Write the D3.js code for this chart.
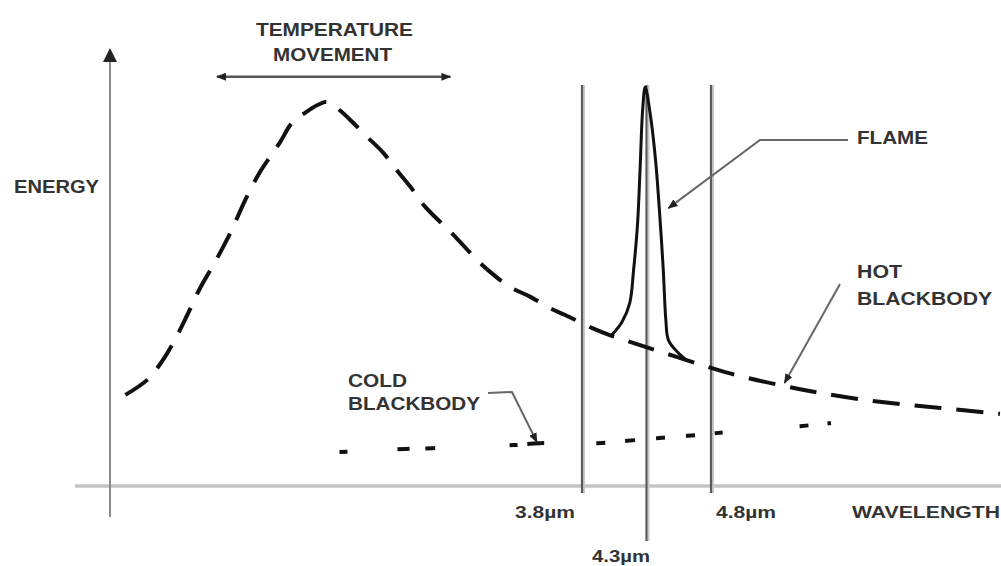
<!DOCTYPE html>
<html lang="en">
<head>
<meta charset="utf-8">
<title>Flame vs blackbody</title>
<script src="https://d3js.org/d3.v7.min.js"></script>
<style>
  body { margin: 0; background: #fff; }
  text { font-family: "Liberation Sans", Arial, sans-serif; font-weight: bold; fill: #333; }
</style>
</head>
<body>
<script>
// wavelength (µm) and relative energy
var hotWl     = [0.26, 0.43, 0.53, 0.63, 0.74, 0.84, 0.955, 1.07, 1.19, 1.29, 1.38, 1.46, 1.55, 1.65, 1.75, 1.83, 1.92, 2.02, 2.12, 2.26, 2.35, 2.47, 2.58, 2.71, 2.82, 2.97, 3.09, 3.24, 3.40, 3.55, 3.67, 3.88, 4.03, 4.25, 4.51, 4.80, 5.02, 5.37, 5.65, 5.95, 6.27, 6.58, 7.04];
var hotEnergy = [23.6, 27.5, 31.6, 37.0, 44.3, 51.3, 58.0, 65.3, 74.1, 80.6, 85.2, 89.1, 94.0, 96.6, 98.7, 99.5, 97.4, 94.3, 90.9, 86.3, 82.4, 77.5, 72.5, 68.1, 64.5, 59.1, 55.4, 51.6, 49.0, 46.1, 44.3, 40.9, 38.9, 36.5, 33.7, 30.6, 28.5, 25.9, 24.1, 22.5, 21.2, 20.2, 18.7];

var coldWl     = [1.92, 2.43, 2.64, 3.28, 3.47, 3.92, 4.15, 4.38, 4.62, 4.84, 5.49, 5.73];
var coldEnergy = [8.8, 9.6, 9.8, 10.6, 11.1, 11.1, 11.7, 12.4, 13.0, 13.7, 15.5, 16.3];

var flameWl     = [4.03, 4.11, 4.17, 4.20, 4.23, 4.25, 4.27, 4.29, 4.33, 4.37, 4.40, 4.43, 4.45, 4.47, 4.54, 4.61];
var flameEnergy = [39.1, 42.5, 47.4, 56.0, 67.6, 81.9, 97.4, 103.4, 96.1, 84.5, 71.5, 56.0, 43.0, 37.8, 34.7, 32.6];

var bandEdges  = [3.8, 4.3, 4.8];
var bandLabels = ["3.8µm", "4.3µm", "4.8µm"];

var W = 1001, H = 566;
var svg = d3.select("body").append("svg").attr("width", W).attr("height", H);

var x = d3.scaleLinear().domain([3.8, 4.8]).range([582, 711]);
var y = d3.scaleLinear().domain([0, 100]).range([486, 100]);

var defs = svg.append("defs");
defs.append("marker").attr("id", "arr")
  .attr("viewBox", "0 0 10 10").attr("refX", 9).attr("refY", 5)
  .attr("markerWidth", 10).attr("markerHeight", 10).attr("markerUnits", "userSpaceOnUse")
  .attr("orient", "auto-start-reverse")
  .append("path").attr("d", "M0,1 L10,5 L0,9 Z").attr("fill", "#222");

// x axis (light grey baseline)
svg.append("line").attr("x1", 75).attr("x2", W).attr("y1", y(0)).attr("y2", y(0))
  .attr("stroke", "#c4c4c4").attr("stroke-width", 3.5);

// y axis with arrow
var yAxisWl = 0.141;
svg.append("line").attr("x1", x(yAxisWl)).attr("x2", x(yAxisWl)).attr("y1", 517).attr("y2", 60)
  .attr("stroke", "#8a8a8a").attr("stroke-width", 2);
svg.append("path")
  .attr("d", "M" + (x(yAxisWl) - 7) + ",62 L" + x(yAxisWl) + ",48 L" + (x(yAxisWl) + 7) + ",62 Z")
  .attr("fill", "#222");

// band lines
var bandBottom = [493, 541, 493];
bandEdges.forEach(function (d, i) {
  svg.append("line").attr("x1", x(d) + 2).attr("x2", x(d) + 2).attr("y1", 85).attr("y2", bandBottom[i])
    .attr("stroke", "#c8c8c8").attr("stroke-width", 2);
  svg.append("line").attr("x1", x(d)).attr("x2", x(d)).attr("y1", 85).attr("y2", bandBottom[i])
    .attr("stroke", "#5a5a5a").attr("stroke-width", 2.2);
});

var line = d3.line().curve(d3.curveCatmullRom);

// hot blackbody (dashed)
svg.append("path")
  .attr("d", line(hotWl.map(function (d, i) { return [x(d), y(hotEnergy[i])]; })))
  .attr("fill", "none").attr("stroke", "#111").attr("stroke-width", 4)
  .attr("stroke-dasharray", "27,15");

// cold blackbody (short dashes)
svg.append("path")
  .attr("d", line(coldWl.map(function (d, i) { return [x(d), y(coldEnergy[i])]; })))
  .attr("fill", "none").attr("stroke", "#111").attr("stroke-width", 4)
  .attr("stroke-dasharray", "8,50,12,16,10,74,8,10,17,52,9,20,10,21,9,21,9,20,8,77,9,19,12,40");

// flame spike
svg.append("path")
  .attr("d", line(flameWl.map(function (d, i) { return [x(d), y(flameEnergy[i])]; })))
  .attr("fill", "none").attr("stroke", "#111").attr("stroke-width", 3);

// temperature movement arrow
svg.append("line").attr("x1", x(0.97)).attr("x2", x(2.78)).attr("y1", y(106)).attr("y2", y(106))
  .attr("stroke", "#555").attr("stroke-width", 2.5)
  .attr("marker-start", "url(#arr)").attr("marker-end", "url(#arr)");

// leader lines
function leader(pts) {
  svg.append("path").attr("d", d3.line()(pts))
    .attr("fill", "none").attr("stroke", "#666").attr("stroke-width", 2)
    .attr("marker-end", "url(#arr)");
}
leader([[848, 140], [760, 140], [x(4.47), y(72)]]);
leader([[840, 284], [x(5.37), y(26.7)]]);
leader([[488, 393], [512, 392], [x(3.45), y(11.4)]]);

// texts
function label(t, tx, ty, size, len) {
  svg.append("text").attr("x", tx).attr("y", ty).attr("font-size", size)
    .attr("textLength", len).attr("lengthAdjust", "spacingAndGlyphs").text(t);
}
label("TEMPERATURE", 256, 36, 19, 157);
label("MOVEMENT", 273, 61, 19, 119);
label("ENERGY", 14, 193, 19, 85);
label("FLAME", 857, 144, 19, 71);
label("HOT", 857, 278, 19, 45);
label("BLACKBODY", 857, 305, 19, 135);
label("COLD", 348, 387, 19, 59);
label("BLACKBODY", 348, 410, 19, 132);
label(bandLabels[0], 515, 518, 17, 60);
label(bandLabels[2], 716, 518, 17, 60);
label(bandLabels[1], 592, 562, 16, 58);
label("WAVELENGTH", 852, 518, 17, 148);
</script>
</body>
</html>
